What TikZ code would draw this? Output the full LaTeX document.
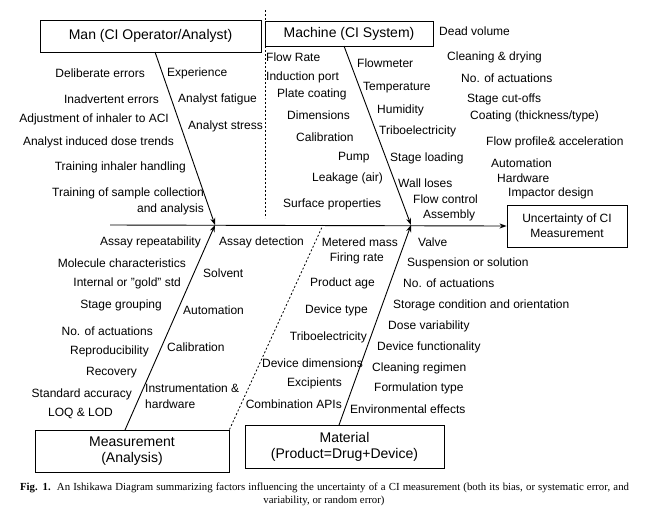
\documentclass[tikz,border=0pt]{standalone}
\usepackage{fontspec}
\setmainfont{Liberation Sans}
\newfontfamily\capfont{Liberation Serif}
\usetikzlibrary{arrows, arrows.meta}

\tikzset{
  lbl/.style={inner sep=0pt, font=\fontsize{12}{16}\selectfont},
  catbox/.style={draw, line width=0.9pt, inner sep=0pt, align=center, font=\fontsize{14}{16}\selectfont},
  bone/.style={line width=0.9pt, -{Stealth[length=7pt, width=5pt]}},
  captxt/.style={inner sep=0pt, font=\capfont\fontsize{10.8}{12}\selectfont},
}

\begin{document}
\begin{tikzpicture}[x=1pt, y=-1pt]
      \useasboundingbox (0,0) rectangle (650,523);

      \node[catbox, minimum width=221pt, minimum height=32pt] (man) at (150.5,36) {Man (CI Operator/Analyst)};
      \node[catbox, minimum width=168pt, minimum height=25pt] (machine) at (349,33.5) {Machine (CI System)};
      \node[catbox, minimum width=194pt, minimum height=42pt] (meas) at (132,451) {Measurement\\(Analysis)};
      \node[catbox, minimum width=199pt, minimum height=43pt] (mat) at (344.5,446.5) {Material\\(Product=Drug+Device)};
      \node[catbox, minimum width=120pt, minimum height=42pt, font=\fontsize{12}{15}\selectfont] (effect) at (567,226) {Uncertainty of CI\\Measurement};

      \coordinate (tail) at (110,225);
      \coordinate (j1) at (215,225);
      \coordinate (j2) at (323,225);
      \coordinate (j3) at (411,225);
      \coordinate (manfoot) at (155,52);
      \coordinate (machfoot) at (344,46);
      \coordinate (measfoot) at (125,430);
      \coordinate (matfoot) at (339,425);
      \coordinate (sep1) at (265,10);
      \coordinate (sep2) at (265,218);

      \draw[bone] (tail) -- (effect.west);
      \draw[bone] (manfoot) -- (j1);
      \draw[bone] (machfoot) -- (j3);
      \draw[bone] (measfoot) -- (j1);
      \draw[bone] (matfoot) -- (j3);
      \draw[line width=0.8pt, dash pattern=on 2pt off 2pt] (meas.north east) -- (j2);
      \draw[line width=0.8pt, dash pattern=on 2pt off 2pt] (sep1) -- (sep2);

      % man
      \node[lbl, anchor=east] (m1) at (145,73) {Deliberate errors};
      \node[lbl, anchor=east] (m2) at (159,99) {Inadvertent errors};
      \node[lbl, anchor=east] (m3) at (169,119) {Adjustment of inhaler to ACI};
      \node[lbl, anchor=east] (m4) at (174,142) {Analyst induced dose trends};
      \node[lbl, anchor=east] (m5) at (186,167) {Training inhaler handling};
      \node[lbl, anchor=east, align=right] (m6) at (204,201) {Training of sample collection\\and analysis};
      \node[lbl, anchor=west] (m7) at (167,73) {Experience};
      \node[lbl, anchor=west] (m8) at (178,99) {Analyst fatigue};
      \node[lbl, anchor=west] (m9) at (188,126) {Analyst stress};

      % machine
      \node[lbl, anchor=west] (c1) at (266,57) {Flow Rate};
      \node[lbl, anchor=west] (c2) at (266,77) {Induction port};
      \node[lbl, anchor=west] (c3) at (277,94) {Plate coating};
      \node[lbl, anchor=west] (c4) at (287,115) {Dimensions};
      \node[lbl, anchor=west] (c5) at (296,137) {Calibration};
      \node[lbl, anchor=west] (c6) at (338,158) {Pump};
      \node[lbl, anchor=west] (c7) at (312,178) {Leakage (air)};
      \node[lbl, anchor=west] (c8) at (283,204) {Surface properties};
      \node[lbl, anchor=west] (c9) at (357,63) {Flowmeter};
      \node[lbl, anchor=west] (c10) at (363,88) {Temperature};
      \node[lbl, anchor=west] (c11) at (377,110) {Humidity};
      \node[lbl, anchor=west] (c12) at (379,131) {Triboelectricity};
      \node[lbl, anchor=west] (c13) at (390,158) {Stage loading};
      \node[lbl, anchor=west] (c14) at (398,183) {Wall loses};
      \node[lbl, anchor=west] (c15) at (413,199) {Flow control};
      \node[lbl, anchor=west] (c16) at (423,215) {Assembly};
      \node[lbl, anchor=west] (c17) at (439,31) {Dead volume};
      \node[lbl, anchor=west] (c18) at (447,57) {Cleaning \& drying};
      \node[lbl, anchor=west] (c19) at (461,78) {No. of actuations};
      \node[lbl, anchor=west] (c20) at (467,99) {Stage cut-offs};
      \node[lbl, anchor=west] (c21) at (470,116) {Coating (thickness/type)};
      \node[lbl, anchor=west] (c22) at (486,142) {Flow profile\& acceleration};
      \node[lbl, anchor=west] (c23) at (491,163) {Automation};
      \node[lbl, anchor=west] (c24) at (497,178) {Hardware};
      \node[lbl, anchor=west] (c25) at (508,193) {Impactor design};

      % measurement
      \node[lbl, anchor=east] (a1) at (201,242) {Assay repeatability};
      \node[lbl, anchor=east] (a2) at (186,263) {Molecule characteristics};
      \node[lbl, anchor=east] (a3) at (181,283) {Internal or "gold" std};
      \node[lbl, anchor=east] (a4) at (162,305) {Stage grouping};
      \node[lbl, anchor=east] (a5) at (153,331) {No. of actuations};
      \node[lbl, anchor=east] (a6) at (149,351) {Reproducibility};
      \node[lbl, anchor=east] (a7) at (137,373) {Recovery};
      \node[lbl, anchor=east] (a8) at (132,394) {Standard accuracy};
      \node[lbl, anchor=east] (a9) at (113,413) {LOQ \& LOD};
      \node[lbl, anchor=west] (a10) at (219,242) {Assay detection};
      \node[lbl, anchor=west] (a11) at (203,273) {Solvent};
      \node[lbl, anchor=west] (a12) at (183,310) {Automation};
      \node[lbl, anchor=west] (a13) at (167,347) {Calibration};
      \node[lbl, anchor=west, align=left] (a14) at (145,396) {Instrumentation \&\\hardware};

      % material
      \node[lbl, anchor=east] (p1) at (398,242) {Metered mass};
      \node[lbl, anchor=east] (p2) at (384,258) {Firing rate};
      \node[lbl, anchor=east] (p3) at (375,283) {Product age};
      \node[lbl, anchor=east] (p4) at (368,310) {Device type};
      \node[lbl, anchor=east] (p5) at (367,337) {Triboelectricity};
      \node[lbl, anchor=east] (p6) at (363,363) {Device dimensions};
      \node[lbl, anchor=east] (p7) at (342,383) {Excipients};
      \node[lbl, anchor=east] (p8) at (342,404) {Combination APIs};
      \node[lbl, anchor=west] (p9) at (418,242) {Valve};
      \node[lbl, anchor=west] (p10) at (407,263) {Suspension or solution};
      \node[lbl, anchor=west] (p11) at (403,283) {No. of actuations};
      \node[lbl, anchor=west] (p12) at (393,305) {Storage condition and orientation};
      \node[lbl, anchor=west] (p13) at (388,326) {Dose variability};
      \node[lbl, anchor=west] (p14) at (377,347) {Device functionality};
      \node[lbl, anchor=west] (p15) at (372,368) {Cleaning regimen};
      \node[lbl, anchor=west] (p16) at (374,388) {Formulation type};
      \node[lbl, anchor=west] (p17) at (350,409) {Environmental effects};

      % caption
      \node[captxt] (cap1) at (324.5,488) {\makebox[609pt][s]{\textbf{Fig. 1.}\ \ An Ishikawa Diagram summarizing factors influencing the uncertainty of a CI measurement (both its bias, or systematic error, and}};
      \node[captxt] (cap2) at (324,501) {variability, or random error)};
\end{tikzpicture}
\end{document}
